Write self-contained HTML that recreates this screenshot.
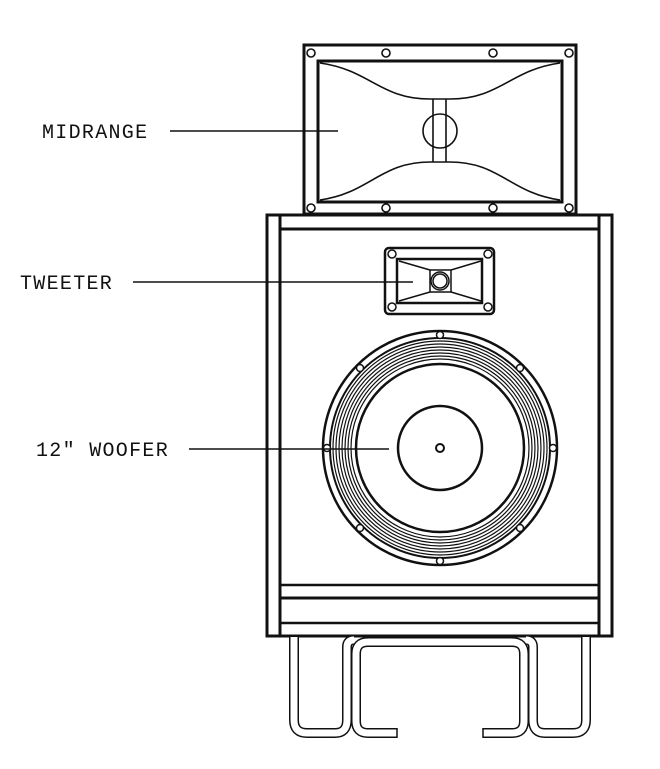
<!DOCTYPE html>
<html><head><style>
html,body{margin:0;padding:0;background:#fff;}
svg{display:block}
text{font-family:"Liberation Mono",monospace;font-size:20px;fill:#111;letter-spacing:1.3px}
</style></head><body>
<svg width="660" height="769" viewBox="0 0 660 769" xmlns="http://www.w3.org/2000/svg">
<g fill="none" stroke="#111">
<!-- midrange -->
<rect x="304" y="45" width="272" height="169" stroke-width="3"/>
<rect x="318" y="61" width="244" height="141" stroke-width="3"/>
<g stroke-width="1.6">
<circle cx="311" cy="53" r="4"/><circle cx="386" cy="53" r="4"/><circle cx="493" cy="53" r="4"/><circle cx="569" cy="53" r="4"/>
<circle cx="311" cy="208" r="4"/><circle cx="386" cy="208" r="4"/><circle cx="493" cy="208" r="4"/><circle cx="569" cy="208" r="4"/>
<path d="M320 63 C370 70 380 99 430 99 L450 99 C500 99 510 70 560 63"/>
<path d="M320 200 C370 193 380 162 430 162 L450 162 C500 162 510 193 560 200"/>
<line x1="433" y1="99" x2="433" y2="162"/><line x1="446" y1="99" x2="446" y2="162"/>
<circle cx="440" cy="131" r="17"/>
</g>
<!-- cabinet -->
<rect x="267" y="215" width="345" height="421" stroke-width="3"/>
<line x1="280" y1="215" x2="280" y2="636" stroke-width="3"/>
<line x1="599" y1="215" x2="599" y2="636" stroke-width="3"/>
<line x1="280" y1="229" x2="599" y2="229" stroke-width="3"/>
<line x1="280" y1="585" x2="599" y2="585" stroke-width="2.5"/>
<line x1="280" y1="598" x2="599" y2="598" stroke-width="3"/>
<line x1="280" y1="623" x2="599" y2="623" stroke-width="2.5"/>
<!-- tweeter -->
<rect x="385" y="248" width="109" height="66" rx="4" stroke-width="2.5"/>
<rect x="397" y="259" width="85" height="44" stroke-width="2.5"/>
<g stroke-width="1.5">
<circle cx="392" cy="254" r="4"/><circle cx="488" cy="254" r="4"/><circle cx="392" cy="307" r="4"/><circle cx="488" cy="307" r="4"/>
<rect x="430" y="270" width="21" height="22"/>
<circle cx="440" cy="281" r="9"/><circle cx="440" cy="281" r="7"/>
<path d="M399 261 L430 270 M481 261 L451 270 M399 301 L430 292 M481 301 L451 292"/>
</g>
<!-- woofer -->
<circle cx="440" cy="448" r="117" stroke-width="2.5"/>
<g stroke-width="1.2">
<circle cx="440" cy="448" r="107"/><circle cx="440" cy="448" r="104"/><circle cx="440" cy="448" r="101"/><circle cx="440" cy="448" r="98"/>
<circle cx="440" cy="448" r="95"/><circle cx="440" cy="448" r="92"/><circle cx="440" cy="448" r="89"/>
</g>
<circle cx="440" cy="448" r="110" stroke-width="2"/>
<circle cx="440" cy="448" r="84" stroke-width="2.5"/>
<circle cx="440" cy="448" r="42" stroke-width="2.5"/>
<circle cx="440" cy="448" r="4" stroke-width="2"/>
<g stroke-width="1.5" fill="#fff">
<circle cx="440" cy="335" r="3.5"/><circle cx="440" cy="561" r="3.5"/><circle cx="327" cy="448" r="3.5"/><circle cx="553" cy="448" r="3.5"/>
<circle cx="360" cy="368" r="3.5"/><circle cx="520" cy="368" r="3.5"/><circle cx="360" cy="528" r="3.5"/><circle cx="520" cy="528" r="3.5"/>
</g>
<!-- stand -->
<g stroke-linejoin="round">
<path id="l" d="M294 637 L294 720 Q294 733 307 733 L335 733 Q347 733 347 720 L347 647 Q347 640 354 640"/>
<path id="b" d="M397 733 L368 733 Q356 733 356 721 L356 654 Q356 642 368 642 L512 642 Q524 642 524 654 L524 721 Q524 733 512 733 L483 733"/>
<path id="r" d="M586 637 L586 720 Q586 733 573 733 L545 733 Q533 733 533 720 L533 647 Q533 640 526 640"/>
</g>
<use href="#l" stroke-width="10"/><use href="#b" stroke-width="10"/><use href="#r" stroke-width="10"/>
<use href="#l" stroke-width="7" stroke="#fff"/><use href="#b" stroke-width="7" stroke="#fff"/><use href="#r" stroke-width="7" stroke="#fff"/>
<g stroke-width="1.5">
<line x1="397" y1="728" x2="397" y2="738"/><line x1="483" y1="728" x2="483" y2="738"/>
</g>
<!-- leader lines -->
<g stroke-width="1.5">
<line x1="170" y1="131" x2="338" y2="131"/>
<line x1="133" y1="282" x2="413" y2="282"/>
<line x1="189" y1="449" x2="389" y2="449"/>
</g>
</g>
<text x="42" y="138">MIDRANGE</text>
<text x="20" y="289">TWEETER</text>
<text x="36" y="456">12" WOOFER</text>
</svg>
</body></html>
